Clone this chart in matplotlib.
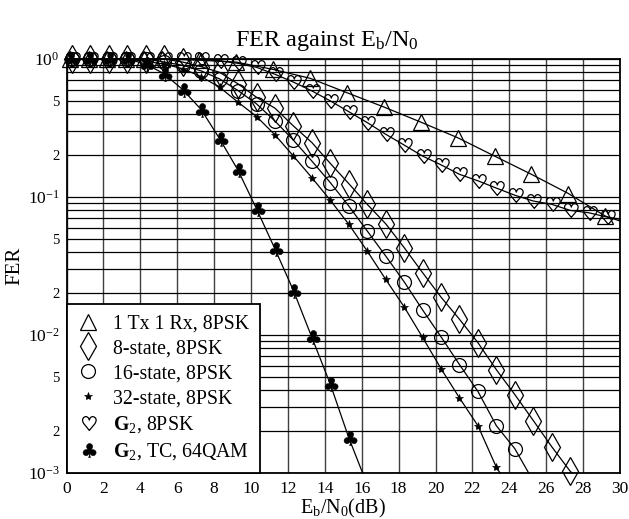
import matplotlib
matplotlib.use('Agg')
import matplotlib.pyplot as plt
import numpy as np
from matplotlib.path import Path
from matplotlib.textpath import TextPath
from matplotlib.font_manager import FontProperties
from matplotlib.lines import Line2D
from matplotlib.ticker import FixedLocator, NullFormatter

plt.rcParams['font.family'] = ['Liberation Serif', 'DejaVu Serif']
plt.rcParams['mathtext.fontset'] = 'custom'
plt.rcParams['mathtext.rm'] = 'Liberation Serif'
plt.rcParams['mathtext.it'] = 'Liberation Serif:italic'
plt.rcParams['mathtext.bf'] = 'Liberation Serif:bold'

# ---------------- data ----------------
labels = ['1 Tx 1 Rx, 8PSK', '8-state, 8PSK', '16-state, 8PSK', '32-state, 8PSK',
          r'$\mathbf{G}_2$, 8PSK', r'$\mathbf{G}_2$, TC, 64QAM']

tri_x = [0.2, 1.2, 2.2, 3.2, 4.2, 5.2, 7.2, 9.2, 11.2, 13.2, 15.2, 17.2, 19.2, 21.2,
         23.2, 25.2, 27.2, 29.2]
tri_y = [1.0, 1.0, 1.0, 1.0, 1.0, 1.0, 0.98, 0.95, 0.84, 0.725, 0.57, 0.449, 0.349,
         0.269, 0.198, 0.146, 0.106, 0.0728]
tri_end = [30.0, 0.067]

dia_x = [0.3, 1.3, 2.3, 3.3, 4.3, 5.3, 6.3, 7.3, 8.3, 9.3, 10.3, 11.3, 12.3, 13.3, 14.3,
         15.3, 16.3, 17.3, 18.3, 19.3, 20.3, 21.3, 22.3, 23.3, 24.3, 25.3, 26.3, 27.3]
dia_y = [1.0, 1.0, 1.0, 1.0, 1.0, 1.0, 0.95, 0.88, 0.80, 0.66, 0.528, 0.44, 0.327, 0.248,
         0.175, 0.125, 0.0885, 0.064, 0.043, 0.0283, 0.0188, 0.013, 0.0088, 0.0056,
         0.0037, 0.0024, 0.00155, 0.00103]
dia_end = [27.4, 0.001]

cir_x = [0.3, 1.3, 2.3, 3.3, 4.3, 5.3, 6.3, 7.3, 8.3, 9.3, 10.3, 11.3, 12.3, 13.3, 14.3,
         15.3, 16.3, 17.3, 18.3, 19.3, 20.3, 21.3, 22.3, 23.3, 24.3]
cir_y = [1.0, 1.0, 1.0, 1.0, 1.0, 0.95, 0.90, 0.82, 0.717, 0.59, 0.473, 0.355, 0.258,
         0.182, 0.127, 0.086, 0.0567, 0.0374, 0.0243, 0.0152, 0.0097, 0.0061, 0.0039,
         0.0022, 0.0015]
cir_end = [25.05, 0.001]

star_x = [0.3, 1.3, 2.3, 3.3, 4.3, 5.3, 6.3, 7.3, 8.3, 9.3, 10.3, 11.3, 12.3, 13.3, 14.3,
          15.3, 16.3, 17.3, 18.3, 19.3, 20.3, 21.3, 22.3, 23.3]
star_y = [1.0, 1.0, 1.0, 1.0, 0.96, 0.92, 0.85, 0.745, 0.624, 0.486, 0.383, 0.282, 0.198,
          0.138, 0.0947, 0.0634, 0.0406, 0.0253, 0.016, 0.0096, 0.0057, 0.0035, 0.0022,
          0.0011]
star_end = [23.5, 0.001]

heart_x = [0.3, 1.3, 2.3, 3.3, 4.3, 5.3, 6.3, 7.3, 8.3, 9.3, 10.3, 11.3, 12.3, 13.3, 14.3,
           15.3, 16.3, 17.3, 18.3, 19.3, 20.3, 21.3, 22.3, 23.3, 24.3, 25.3, 26.3, 27.3,
           28.3, 29.3]
heart_y = [1.0, 1.0, 1.0, 1.0, 1.0, 1.0, 1.0, 1.0, 0.97, 0.93, 0.87, 0.775, 0.68, 0.587,
           0.497, 0.415, 0.346, 0.285, 0.238, 0.198, 0.171, 0.146, 0.131, 0.116, 0.103,
           0.0935, 0.0885, 0.080, 0.0769, 0.0716]
heart_end = [30.0, 0.069]

club_x = [0.2, 1.2, 2.3, 3.3, 4.3, 5.3, 6.3, 7.3, 8.3, 9.3, 10.3, 11.3, 12.3, 13.3, 14.3,
          15.3]
club_y = [1.0, 1.0, 1.0, 1.0, 0.92, 0.78, 0.60, 0.43, 0.264, 0.156, 0.082, 0.042, 0.021,
          0.0096, 0.0044, 0.0018]
club_end = [16.05, 0.001]

line_start = [0.0, 1.0]

x_ticks = [0, 2, 4, 6, 8, 10, 12, 14, 16, 18, 20, 22, 24, 26, 28, 30]
y_ticks = [1e-3, 2e-3, 5e-3, 1e-2, 2e-2, 5e-2, 1e-1, 2e-1, 5e-1, 1.0]
y_ticklabels = [r'$10^{-3}$', '2', '5', r'$10^{-2}$', '2', '5', r'$10^{-1}$', '2', '5',
                r'$10^{0}$']


# ---------------- glyph markers ----------------
def glyph_marker(ch):
    tp = TextPath((0, 0), ch, size=10, prop=FontProperties(family='DejaVu Sans'))
    v = tp.vertices.copy()
    xmin, ymin = v.min(axis=0)
    xmax, ymax = v.max(axis=0)
    v[:, 0] -= (xmin + xmax) / 2
    v[:, 1] -= (ymin + ymax) / 2
    return Path(v, tp.codes)


heart_m = glyph_marker('\u2665')
club_m = glyph_marker('\u2663')

styles = [
    dict(marker='^', ms=11, mfc='none', mec='k', mew=0.9),
    dict(marker='d', ms=14, mfc='none', mec='k', mew=0.9),
    dict(marker='o', ms=10, mfc='none', mec='k', mew=0.9),
    dict(marker='*', ms=6, mfc='k', mec='k', mew=0.5),
    dict(marker=heart_m, ms=11, mfc='none', mec='k', mew=0.9),
    dict(marker=club_m, ms=11, mfc='k', mec='k', mew=0.3),
]

series = [
    (tri_x, tri_y, tri_end),
    (dia_x, dia_y, dia_end),
    (cir_x, cir_y, cir_end),
    (star_x, star_y, star_end),
    (heart_x, heart_y, heart_end),
    (club_x, club_y, club_end),
]

fig = plt.figure(figsize=(6.29, 5.19), dpi=100)
ax = fig.add_axes([66.5 / 629, 1 - 473 / 519, (620 - 66.5) / 629, (473 - 59) / 519])
ax.set_yscale('log')
ax.set_xlim(0, 30)
ax.set_ylim(1e-3, 1.0)

for (xs, ys, end), st in zip(series, styles):
    lx = [line_start[0]] + list(xs) + [end[0]]
    ly = [line_start[1]] + list(ys) + [end[1]]
    ax.plot(lx, ly, color='k', lw=0.9, zorder=3, clip_on=False)
    ax.plot(xs, ys, ls='none', zorder=4, clip_on=False, **st)

# ticks and grid
ax.xaxis.set_major_locator(FixedLocator(x_ticks))
ax.set_xticklabels([str(t) for t in x_ticks])
ax.yaxis.set_major_locator(FixedLocator(y_ticks))
ax.set_yticklabels(y_ticklabels)
minor = [m * 10.0 ** e for e in (-3, -2, -1) for m in (3, 4, 6, 7, 8, 9)]
ax.yaxis.set_minor_locator(FixedLocator(minor))
ax.yaxis.set_minor_formatter(NullFormatter())
ax.tick_params(which='both', length=0)
ax.tick_params(axis='x', labelsize=12.5, pad=6)
ax.tick_params(axis='y', labelsize=12.5, pad=5)
for lab, txt in zip(ax.get_yticklabels(), y_ticklabels):
    if txt in ('2', '5'):
        lab.set_fontsize(10.5)

ax.grid(True, axis='x', which='major', color='0.25', lw=1.0, zorder=1)
ax.grid(True, axis='y', which='both', color='k', lw=0.9, zorder=1)
for sp in ax.spines.values():
    sp.set_linewidth(1.3)
    sp.set_zorder(5)

ax.set_title(r'FER against E$_\mathrm{b}$/N$_0$', fontsize=17.5, pad=9, x=0.47)
ax.set_xlabel(r'E$_\mathrm{b}$/N$_0$(dB)', fontsize=14.5, labelpad=0)
ax.set_ylabel('FER', fontsize=15, labelpad=2)

handles = [Line2D([], [], ls='none', **st) for st in styles]
leg = ax.legend(handles, labels, loc='lower left', borderaxespad=0, fontsize=14.3,
                fancybox=False, framealpha=1, edgecolor='k', handlelength=1.1,
                handletextpad=0.7, labelspacing=0.3, borderpad=0.55)
leg.get_frame().set_linewidth(1.3)
leg.set_zorder(10)

fig.savefig('out.png', dpi=100)
